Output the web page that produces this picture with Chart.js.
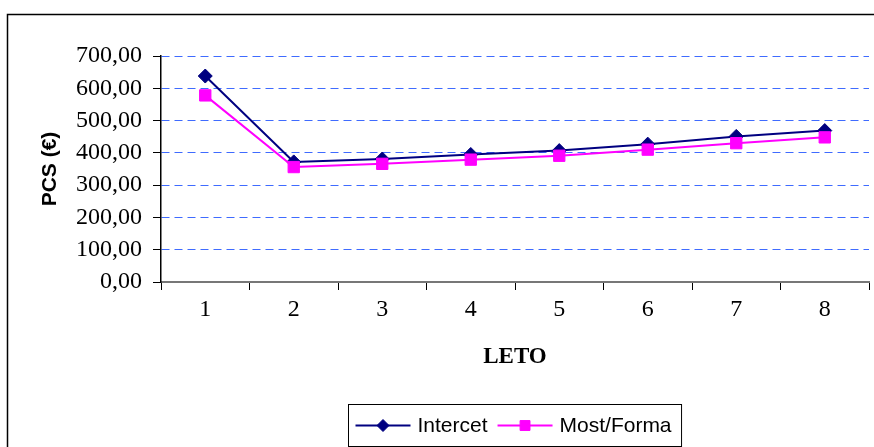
<!DOCTYPE html>
<html>
<head>
<meta charset="utf-8">
<script src="https://cdn.jsdelivr.net/npm/chart.js@4/dist/chart.umd.min.js"></script>
<style>
  html, body { margin: 0; padding: 0; background: #fff; overflow: hidden; }
  #wrap { position: relative; width: 874px; height: 447px; }
</style>
</head>
<body>
<div id="wrap"><canvas id="c" width="874" height="447"></canvas></div>
<script>
// Years (LETO) and the two cost series (PCS in €)
const years = ['1', '2', '3', '4', '5', '6', '7', '8'];
const intercet = [638, 372, 381, 395, 407, 427, 451, 469];
const mostForma = [578, 356, 366, 379, 391, 410, 430, 448];
const seriesNames = ['Intercet', 'Most/Forma'];
const yMin = 0, yMax = 700, yStep = 100;

const NAVY = '#000080';
const MAGENTA = '#FF00FF';
const GRID_BLUE = '#3f6bff';

// outer frame around the whole chart
const framePlugin = {
  id: 'frame',
  beforeDraw(chart) {
    const ctx = chart.ctx;
    ctx.save();
    ctx.fillStyle = '#fff';
    ctx.fillRect(0, 0, chart.width, chart.height);
    ctx.strokeStyle = '#000';
    ctx.lineWidth = 1.5;
    ctx.strokeRect(7.5, 14.5, 2000, 2000);
    ctx.restore();
  }
};

// boxed legend with line + marker samples, centred under the plot
const boxLegendPlugin = {
  id: 'boxLegend',
  afterDraw(chart) {
    const ctx = chart.ctx;
    const area = chart.chartArea;
    const font = '21px "Liberation Sans", Arial, sans-serif';
    ctx.save();
    ctx.font = font;
    const sampleLen = 55, padL = 7, gapText = 7, gapItem = 10, padR = 10;
    const items = [
      { ds: chart.data.datasets[1], label: seriesNames[0] },
      { ds: chart.data.datasets[0], label: seriesNames[1] }
    ];
    let total = padL;
    items.forEach((it, i) => {
      it.w = ctx.measureText(it.label).width;
      total += sampleLen + gapText + it.w + (i < items.length - 1 ? gapItem : padR);
    });
    const boxH = 42;
    const cx = (area.left + area.right) / 2;
    const bx = Math.round(cx - total / 2) + 0.5;
    const by = 404.5;
    ctx.strokeStyle = '#000';
    ctx.lineWidth = 1;
    ctx.strokeRect(bx, by, total, boxH);
    const my = by + boxH / 2;
    let x = bx + padL;
    items.forEach((it) => {
      const ds = it.ds;
      ctx.strokeStyle = ds.borderColor;
      ctx.lineWidth = 2;
      ctx.beginPath();
      ctx.moveTo(x, my);
      ctx.lineTo(x + sampleLen, my);
      ctx.stroke();
      ctx.fillStyle = ds.pointBackgroundColor;
      ctx.strokeStyle = ds.pointBorderColor;
      ctx.lineWidth = 1;
      Chart.helpers.drawPoint(ctx, {
        pointStyle: ds.pointStyle,
        radius: ds.pointRadius - 1,
        rotation: 0,
        borderWidth: 1
      }, x + sampleLen / 2, my);
      x += sampleLen + gapText;
      ctx.fillStyle = '#000';
      ctx.textBaseline = 'middle';
      ctx.textAlign = 'left';
      ctx.fillText(it.label, x, my + 1);
      x += it.w + gapItem;
    });
    ctx.restore();
  }
};

const fmt = (v) => v.toFixed(2).replace('.', ',');

new Chart(document.getElementById('c'), {
  type: 'line',
  data: {
    labels: years,
    datasets: [
      {
        label: seriesNames[1],
        data: mostForma,
        borderColor: MAGENTA,
        backgroundColor: MAGENTA,
        pointBackgroundColor: MAGENTA,
        pointBorderColor: MAGENTA,
        pointStyle: 'rect',
        pointRadius: 8,
        pointBorderWidth: 1,
        borderWidth: 2,
        tension: 0,
        order: 0
      },
      {
        label: seriesNames[0],
        data: intercet,
        borderColor: NAVY,
        backgroundColor: NAVY,
        pointBackgroundColor: NAVY,
        pointBorderColor: NAVY,
        pointStyle: 'rectRot',
        pointRadius: 7,
        pointBorderWidth: 1,
        borderWidth: 2,
        tension: 0,
        order: 1
      }
    ]
  },
  options: {
    responsive: false,
    animation: false,
    devicePixelRatio: 1,
    layout: { autoPadding: false, padding: { top: 56, right: 5, left: 0, bottom: 0 } },
    plugins: {
      legend: { display: false },
      tooltip: { enabled: false }
    },
    scales: {
      x: {
        type: 'category',
        offset: true,
        grid: {
          offset: true,
          drawOnChartArea: false,
          drawTicks: true,
          tickLength: 8,
          tickColor: '#000',
          tickWidth: 1
        },
        border: { display: true, color: '#777', width: 2 },
        ticks: {
          color: '#000',
          padding: 5,
          maxRotation: 0,
          font: { family: '"Liberation Serif", "Times New Roman", serif', size: 24 }
        },
        title: {
          display: true,
          text: 'LETO',
          color: '#000',
          font: { family: '"Liberation Serif", "Times New Roman", serif', size: 23, weight: 'bold' },
          padding: { top: 0, bottom: 76 }
        },
        afterFit(scale) { scale.height = 165; }
      },
      y: {
        min: yMin,
        max: yMax,
        ticks: {
          stepSize: yStep,
          color: '#000',
          padding: 11,
          font: { family: '"Liberation Serif", "Times New Roman", serif', size: 24 },
          callback: (v) => fmt(v)
        },
        grid: {
          color: GRID_BLUE,
          lineWidth: 1,
          drawTicks: true,
          tickLength: 8,
          tickColor: '#000',
          tickWidth: 1,
          tickBorderDash: []
        },
        border: { display: true, color: '#000', width: 1.5, dash: [8, 5] },
        title: {
          display: true,
          text: 'PCS (€)',
          color: '#000',
          font: { family: '"Liberation Sans", Arial, sans-serif', size: 21, weight: 'bold' },
          padding: { top: 38, bottom: 0 }
        },
        afterFit(scale) { scale.width = 161; }
      }
    }
  },
  plugins: [framePlugin, boxLegendPlugin]
});
</script>
</body>
</html>
